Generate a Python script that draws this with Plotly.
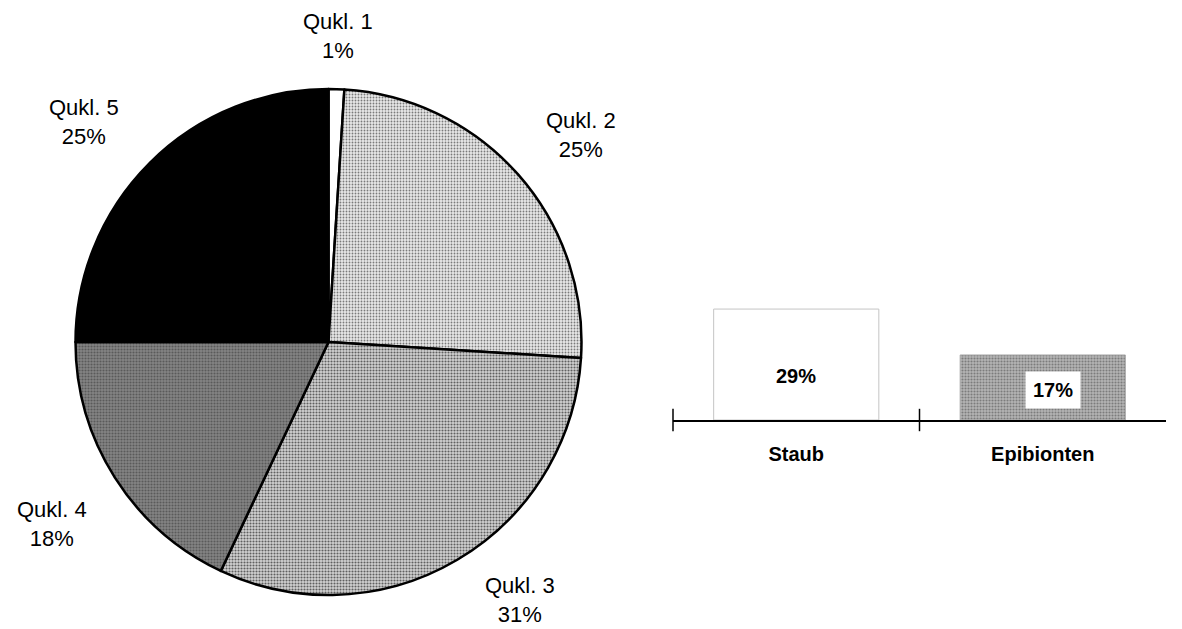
import math
import plotly.graph_objects as go

# Pie: distribution of classes
pie_labels = ["Qukl. 1", "Qukl. 2", "Qukl. 3", "Qukl. 4", "Qukl. 5"]
pie_values = [1, 25, 31, 18, 25]

# Bars: share per category
bar_categories = ["Staub", "Epibionten"]
bar_values = [29, 17]

# ---- styling / layout helpers ----
W, H = 1182, 629
FONT = "Liberation Sans, Arial, sans-serif"
PIE_CX, PIE_CY, PIE_R = 328.5, 342.0, 253.0        # pixel geometry of the pie
label_dist = [1.21, 1.29, 1.27, 1.31, 1.30]        # label distance in radii
label_turn = [0.0, 2.0, -6.0, -1.0, -3.0]          # label angle nudge, degrees

pie_fill = ["#ffffff", "#e8e8e8", "#d2d2d2", "#848484", "#000000"]
pie_pattern = dict(
    shape=["", ".", ".", ".", ""],
    fgcolor=["#ffffff", "#7a7a7a", "#606060", "#5a5a5a", "#000000"],
    bgcolor=pie_fill,
    size=[4, 3, 3, 3, 4],
    solidity=[0.1, 0.3, 0.4, 0.4, 0.1],
)

fig = go.Figure()

fig.add_trace(go.Pie(
    labels=pie_labels,
    values=pie_values,
    sort=False,
    direction="clockwise",
    rotation=0,
    textinfo="none",
    hoverinfo="label+percent",
    showlegend=False,
    marker=dict(colors=pie_fill, line=dict(color="#000000", width=2.5),
                pattern=pie_pattern),
    domain=dict(
        x=[(PIE_CX - PIE_R) / W, (PIE_CX + PIE_R) / W],
        y=[1 - (PIE_CY + PIE_R) / H, 1 - (PIE_CY - PIE_R) / H],
    ),
))

# Labels around the pie, placed at each slice's mid angle
total = sum(pie_values)
cum = 0.0
for name, v, d, turn in zip(pie_labels, pie_values, label_dist, label_turn):
    mid = math.radians((cum + v / 2) / total * 360 + turn)
    cum += v
    px = PIE_CX + d * PIE_R * math.sin(mid)
    py = PIE_CY - d * PIE_R * math.cos(mid)
    fig.add_annotation(
        x=px / W, y=1 - py / H, xref="paper", yref="paper",
        text=f"{name}<br>{round(v / total * 100)}%",
        showarrow=False, font=dict(family=FONT, size=22, color="#000000"),
        xanchor="center", yanchor="middle", align="center",
    )

# Bars
bar_x = list(range(len(bar_categories)))
fig.add_trace(go.Bar(
    x=bar_x, y=bar_values,
    xaxis="x2", yaxis="y2",
    width=0.67,
    showlegend=False,
    marker=dict(
        color=["#ffffff", "#b4b4b4"],
        line=dict(color=["#c4c4c4", "#a8a8a8"], width=1),
        pattern=dict(shape=["", "."], fgcolor=["#ffffff", "#6e6e6e"],
                     bgcolor=["#ffffff", "#c8c8c8"], size=3, solidity=0.4),
    ),
    hoverinfo="x+y",
))

# Boundary tick marks crossing the axis line
fig.add_trace(go.Scatter(
    x=[-0.5, 0.5], y=[0, 0], xaxis="x2", yaxis="y2",
    mode="markers", showlegend=False, hoverinfo="skip", cliponaxis=False,
    marker=dict(symbol="line-ns-open", size=16, color="#000000",
                line=dict(color="#000000", width=1.5)),
))

# Value labels inside the bars
label_pos = [0.40, 0.46]
for i, (c, v, p) in enumerate(zip(bar_categories, bar_values, label_pos)):
    fig.add_annotation(
        x=i, y=v * p, xref="x2", yref="y2",
        text=f"{v}%", showarrow=False,
        font=dict(family=FONT, size=20, color="#000000", weight="bold"),
        bgcolor="#ffffff" if i == 1 else None,
        borderpad=7 if i == 1 else 0,
        xshift=10 if i == 1 else 0,
    )

fig.update_layout(
    width=W, height=H,
    margin=dict(l=0, r=0, t=0, b=0),
    paper_bgcolor="#ffffff",
    plot_bgcolor="rgba(0,0,0,0)",
    font=dict(family=FONT, color="#000000"),
    xaxis2=dict(
        domain=[673 / W, 1166 / W], anchor="y2",
        range=[-0.5, 1.5],
        tickvals=bar_x, ticktext=bar_categories,
        ticks="", showgrid=False, zeroline=False,
        showline=True, linecolor="#000000", linewidth=1.5,
        tickfont=dict(family=FONT, size=20, color="#000000", weight="bold"),
        ticklabelstandoff=15,
        fixedrange=True,
    ),
    yaxis2=dict(
        domain=[1 - 420 / H, 1 - 267 / H], anchor="x2",
        range=[0, 40],
        visible=False, showgrid=False, zeroline=False,
        fixedrange=True,
    ),
    bargap=0.33,
)

fig.write_html("out.html")
